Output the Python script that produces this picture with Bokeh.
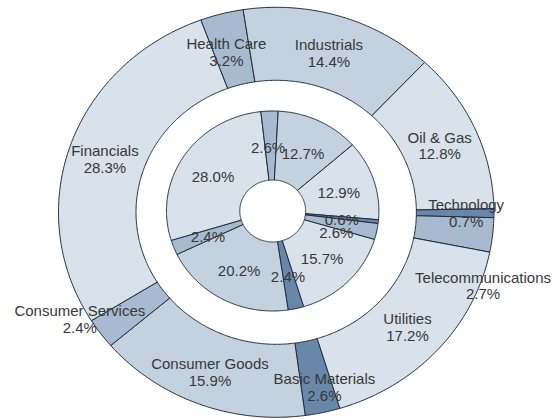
import numpy as np
from bokeh.plotting import figure
from bokeh.models import Range1d, ColumnDataSource
from bokeh.core.properties import value
from bokeh.embed import file_html
from bokeh.resources import INLINE

# ---- data ----
sectors = ["Basic Materials", "Consumer Goods", "Consumer Services", "Financials",
           "Health Care", "Industrials", "Oil & Gas", "Technology",
           "Telecommunications", "Utilities"]
outer_pct = [2.6, 15.9, 2.4, 28.3, 3.2, 14.4, 12.8, 0.7, 2.7, 17.2]
inner_pct = [2.4, 20.2, 2.4, 28.0, 2.6, 12.7, 12.9, 0.6, 2.6, 15.7]

# ---- style ----
DARK, MED, MIDL, LIGHT = "#6987A9", "#A8BACF", "#C4D2E0", "#D9E1EA"
slice_colors = [DARK, MIDL, MED, LIGHT, MED, MIDL, LIGHT, DARK, MED, LIGHT]
EDGE = "#1F2D3D"
TXT = "#383838"
FONT = value("Liberation Sans")
START = 163.0
# label nudges in screen pixels (dx right, dy down)
outer_nudge = [(10, 8.6), (-2.4, 0.8), (-52, 5.7), (-2, -0.6), (-5, 0.9),
               (0, 0), (0, 0), (11, -1.7), (29, 52.8), (-1.5, 0)]
inner_nudge = [(0, 0), (-1, 0), (0, 0), (-1.5, 0), (-2.6, 0),
               (0, 0), (0, 0), (0, 0), (-4.5, 6.6), (0, 0)]
BASE_DY = 1.7
LINE_HALF = 8.3


def ring(vals, r_in, r_out, cx, cy, start=START):
    tot = float(sum(vals))
    xs, ys, mids = [], [], []
    a = start
    for v in vals:
        span = v / tot * 360.0
        n = max(int(span * 2), 4)
        t = np.radians(np.linspace(a, a + span, n))
        tr = t[::-1]
        xs.append(list(np.concatenate([cx + r_out * np.sin(t), cx + r_in * np.sin(tr)])))
        ys.append(list(np.concatenate([cy + r_out * np.cos(t), cy + r_in * np.cos(tr)])))
        mids.append(a + span / 2.0)
        a += span
    rm = (r_in + r_out) / 2.0
    lx = [cx + rm * np.sin(np.radians(m)) for m in mids]
    ly = [cy + rm * np.cos(np.radians(m)) for m in mids]
    return xs, ys, lx, ly


p = figure(width=559, height=419, output_backend="svg", toolbar_location=None,
           x_range=Range1d(-2.563, 2.7006), y_range=Range1d(-2.085, 2.105),
           min_border=0)
p.axis.visible = False
p.xgrid.visible = False
p.ygrid.visible = False
p.outline_line_color = None
p.background_fill_color = "white"
p.border_fill_color = "white"

# outer ring
oxs, oys, olx, oly = ring(outer_pct, 1.32, 2.05, 0.033, -0.013)
p.patches(xs=oxs, ys=oys, fill_color=slice_colors, line_color=EDGE, line_width=1)

# inner ring
ixs, iys, ilx, ily = ring(inner_pct, 0.31, 1.0, 0.0, 0.0)
p.patches(xs=ixs, ys=iys, fill_color=slice_colors, line_color=EDGE, line_width=1)

# outer labels: name line + percent line (y_offset positive = down)
name_src = ColumnDataSource(dict(
    x=olx, y=oly, t=sectors,
    xo=[n[0] for n in outer_nudge],
    yo=[n[1] + BASE_DY - LINE_HALF for n in outer_nudge]))
pct_src = ColumnDataSource(dict(
    x=olx, y=oly, t=[f"{v:.1f}%" for v in outer_pct],
    xo=[n[0] for n in outer_nudge],
    yo=[n[1] + BASE_DY + LINE_HALF for n in outer_nudge]))
inner_src = ColumnDataSource(dict(
    x=ilx, y=ily, t=[f"{v:.1f}%" for v in inner_pct],
    xo=[n[0] for n in inner_nudge],
    yo=[n[1] + BASE_DY for n in inner_nudge]))

for src in (name_src, pct_src, inner_src):
    p.text(x="x", y="y", text="t", x_offset="xo", y_offset="yo", source=src,
           text_align="center", text_baseline="middle", text_font=FONT,
           text_font_size="15px", text_color=TXT)

open("out.html", "w").write(file_html(p, INLINE))
